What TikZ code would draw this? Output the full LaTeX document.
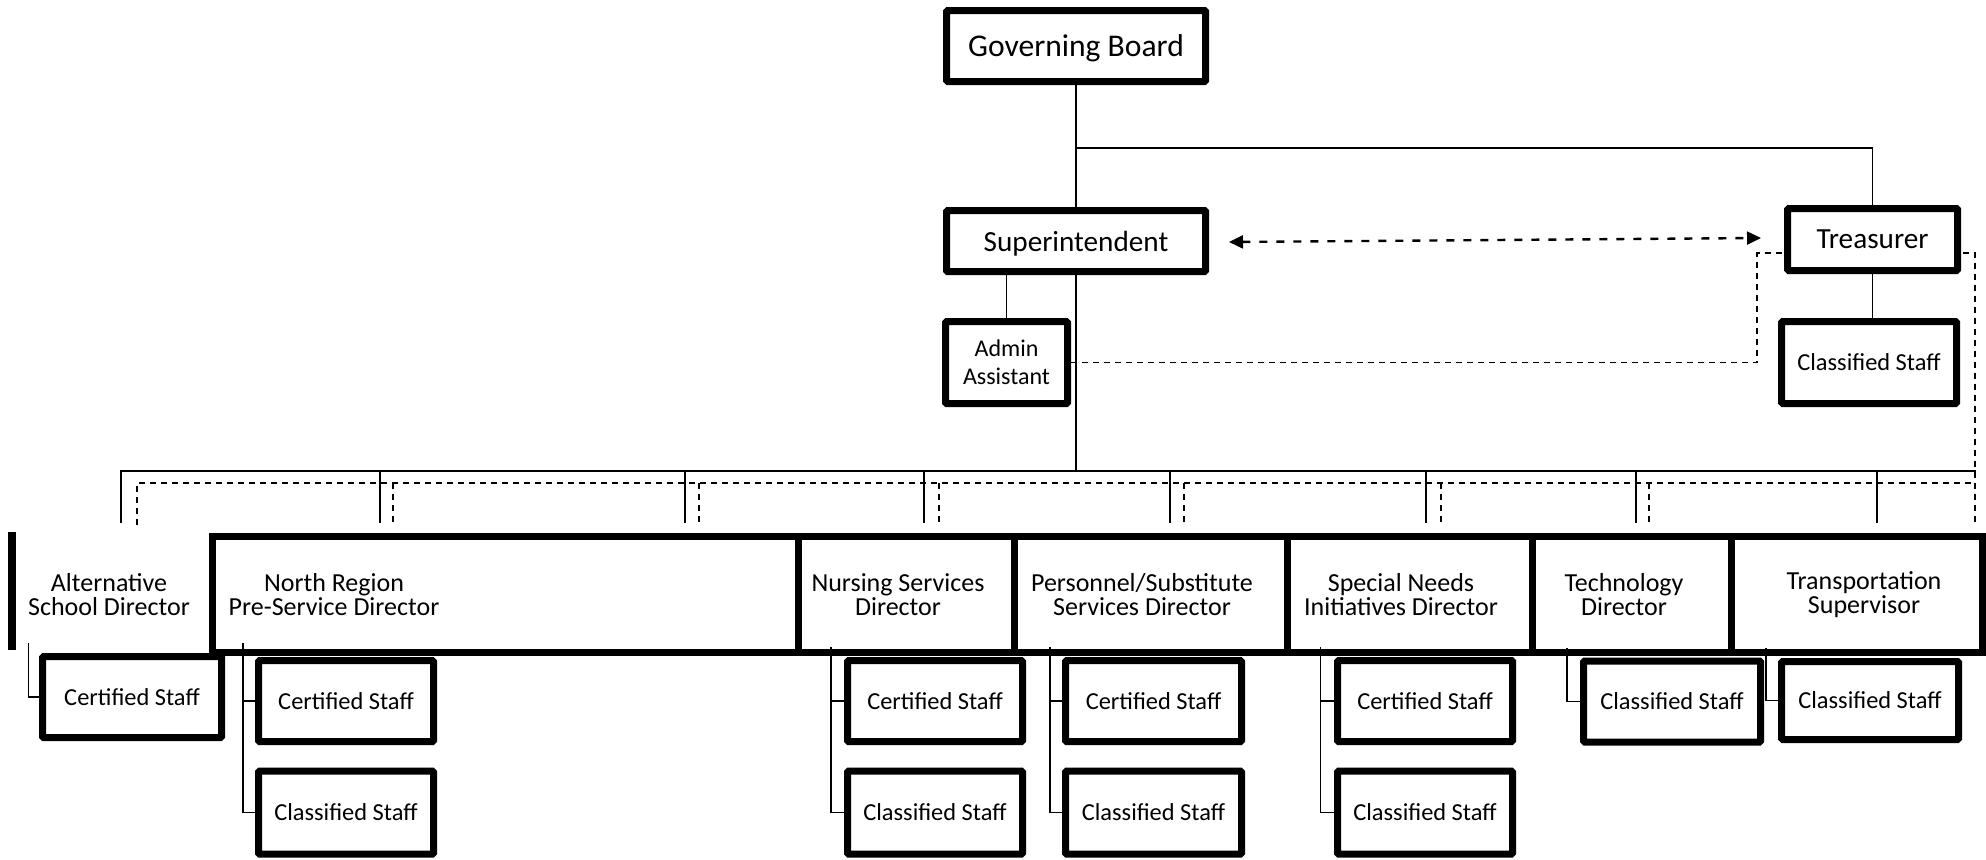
\documentclass[tikz,border=0pt]{standalone}
\usepackage{fontspec}
\setmainfont{Carlito}
\usetikzlibrary{arrows.meta,backgrounds}
\begin{document}
\begin{tikzpicture}[x=0.5pt,y=-0.5pt,
  box/.style={draw,line width=3.5pt,rounded corners=0.6pt,fill=white,inner sep=0pt,align=center,text depth=0pt},
  dbox/.style={draw,line width=3.5pt,inner sep=0pt},
  staff/.style={box,minimum width=87.5pt,minimum height=40.5pt,font=\fontsize{12.2}{14}\selectfont},
  dtext/.style={inner sep=0pt,align=center,font=\fontsize{13}{12}\selectfont},
  conn/.style={line width=0.8pt},
  dconn/.style={line width=0.8pt,dash pattern=on 3pt off 2.5pt},
  dblarrow/.style={line width=1.2pt,dash pattern=on 4pt off 4.5pt,
    {Triangle[length=7pt,width=6.5pt]}-{Triangle[length=7pt,width=6.5pt]}},
]
\useasboundingbox (0,0) rectangle (1986,859);

% top level
\node[box,minimum width=129.5pt,minimum height=35.5pt,font=\fontsize{15.8}{19}\selectfont] (gb) at (1076,46) {Governing Board};
\node[box,minimum width=129.5pt,minimum height=30.5pt,font=\fontsize{14.6}{17}\selectfont] (super) at (1076,241) {Superintendent};
\node[box,minimum width=85pt,minimum height=31pt,font=\fontsize{14.6}{17}\selectfont] (treas) at (1872.5,239.5) {Treasurer};
\node[box,minimum width=61pt,minimum height=41pt,font=\fontsize{12}{14}\selectfont] (admin) at (1006.5,362.5) {Admin\\Assistant};
\node[box,minimum width=87.5pt,minimum height=41pt,font=\fontsize{12.2}{14}\selectfont] (tstaff) at (1869,362.5) {Classified Staff};

% director row
\draw[line width=3.75pt] (12,532) -- (12,650);
\node[dbox,minimum width=293pt,minimum height=57.75pt] (nr) at (505.5,594.25) {};
\node[dbox,minimum width=108pt,minimum height=57.75pt] (ns) at (906.5,594.25) {};
\node[dbox,minimum width=136.25pt,minimum height=57.75pt] (ps) at (1150.75,594.25) {};
\node[dbox,minimum width=122.75pt,minimum height=57.75pt] (sn) at (1409.75,594.25) {};
\node[dbox,minimum width=99.5pt,minimum height=57.75pt] (te) at (1632,594.25) {};
\node[dbox,minimum width=125.5pt,minimum height=57.75pt] (tr) at (1857,594.25) {};

\node[dtext] (altt) at (109,595) {Alternative\\School Director};
\node[dtext] (nrt) at (334,595) {North Region\\Pre-Service Director};
\node[dtext] (nst) at (898,595) {Nursing Services\\Director};
\node[dtext] (pst) at (1142,595) {Personnel/Substitute\\Services Director};
\node[dtext] (snt) at (1401,595) {Special Needs\\Initiatives Director};
\node[dtext] (tet) at (1624,595) {Technology\\Director};
\node[dtext] (trt) at (1864,595) {Transportation\\Supervisor};

% staff boxes
\node[staff,minimum width=89.5pt] (altc) at (132,697) {Certified Staff};
\node[staff] (nrc) at (346,701) {Certified Staff};
\node[staff,minimum height=41.5pt] (nrcl) at (346,812.5) {Classified Staff};
\node[staff] (nsc) at (935,701) {Certified Staff};
\node[staff,minimum height=41.5pt] (nscl) at (935,812.5) {Classified Staff};
\node[staff,minimum width=88pt] (psc) at (1153.5,701) {Certified Staff};
\node[staff,minimum width=88pt,minimum height=41.5pt] (pscl) at (1153.5,812.5) {Classified Staff};
\node[staff] (snc) at (1425,701) {Certified Staff};
\node[staff,minimum height=41.5pt] (sncl) at (1425,812.5) {Classified Staff};
\node[staff,minimum width=88.5pt] (tec) at (1672,701.5) {Classified Staff};
\node[staff,minimum width=88.5pt,minimum height=39pt] (trc) at (1870,700.5) {Classified Staff};

\begin{scope}[on background layer]
  % solid hierarchy
  \draw[conn] (gb.south) -- (super.north);
  \coordinate (j1) at (1076,148);
  \draw[conn] (j1) -| (treas.north);
  \draw[conn] (admin.north |- super.south) -- (admin.north);
  \draw[conn] (treas.south) -- (treas.south |- tstaff.north);
  \coordinate (bus) at (1076,471);
  \draw[conn] (super.south) -- (bus);
  \draw[conn] (121,523) -- (121,471) -- (1976,471);
  \foreach \x in {380,685,924,1170,1426,1636,1877}
    \draw[conn] (\x,471) -- (\x,523);
  % dashed
  \draw[dconn] (admin.east) -- (1757,362.5) -- (1757,253) -- (1975,253) -- (1975,525);
  \draw[dconn] (137,525) -- (137,483) -- (1975,483);
  \foreach \x in {393,699,939,1184,1441,1649}
    \draw[dconn] (\x,483) -- (\x,525);
  % dashed double arrow
  \coordinate (al) at (1229,242);
  \coordinate (ar) at (1761,238);
  \draw[dblarrow] (al) -- (ar);
  % staff connectors
  \draw[conn] (28.5,643) |- (altc.west);
  \draw[conn] (243,643) |- (nrcl.west);
  \draw[conn] (nrc.west -| 243,0) -- (nrc.west);
  \draw[conn] (831,647) |- (nscl.west);
  \draw[conn] (nsc.west -| 831,0) -- (nsc.west);
  \draw[conn] (1050,647) |- (pscl.west);
  \draw[conn] (psc.west -| 1050,0) -- (psc.west);
  \draw[conn] (1320.5,647) |- (sncl.west);
  \draw[conn] (snc.west -| 1320.5,0) -- (snc.west);
  \draw[conn] (1567,648) |- (tec.west);
  \draw[conn] (1766,648) |- (trc.west);
\end{scope}
\end{tikzpicture}
\end{document}
